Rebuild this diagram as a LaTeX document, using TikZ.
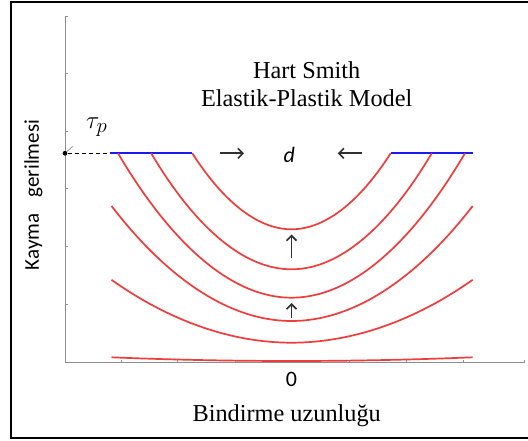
\documentclass[tikz,border=0pt]{standalone}
\usepackage{fontspec}
\setmainfont{Liberation Serif}
\setsansfont{Carlito}
\usetikzlibrary{arrows.meta}
\definecolor{Ink}{HTML}{000000}
\definecolor{AxisGrey}{HTML}{8E8E8E}
\definecolor{CurveRed}{HTML}{F03C3C}
\definecolor{PlateauBlue}{HTML}{1A1AF0}
\definecolor{PushInk}{HTML}{303030}

\begin{document}
\begin{tikzpicture}[x=1pt,y=-1pt,
  curve/.style={CurveRed,line width=1.7pt},
  plateau/.style={PlateauBlue,line width=1.9pt},
  push/.style={PushInk,line width=1.6pt,-{Straight Barb[length=5pt,width=10pt]}},
  serifbig/.style={font=\fontsize{24.3}{27.7}\selectfont,inner sep=0pt,text=Ink},
  sanslbl/.style={font=\sffamily\fontsize{21}{23}\selectfont,inner sep=0pt,text=Ink}]
  \useasboundingbox (0,0) rectangle (528,441);
  \fill[white] (0,0) rectangle (528,441);
  \draw[Ink,line width=2pt] (531,2) -- (11,2) -- (11,438) -- (531,438);

  % axes
  \coordinate (ytop) at (65,16);
  \coordinate (orig) at (65,362.7);
  \coordinate (xend) at (525,362.7);
  \draw[AxisGrey,line width=0.9pt] (ytop) -- (orig) -- (xend);
  \foreach \y in {16,73.3,131,188.7,246.7,304.3}{\draw[AxisGrey,line width=0.8pt] (65,\y) -- ++(3,0);}
  \foreach \x in {121,177.7,235.7,291.5,349,406,463.3,524}{\draw[AxisGrey,line width=0.8pt] (\x,362.7) -- ++(0,-3);}

  % plastic plateau level
  \node[circle,fill=Ink,inner sep=1.7pt] (tpdot) at (65,153.3) {};
  \coordinate (plL1) at (110,153.3);
  \coordinate (plL2) at (192.3,153.3);
  \coordinate (plR1) at (390.7,153.3);
  \coordinate (plR2) at (472.7,153.3);
  \draw[Ink,line width=1pt,dash pattern=on 4pt off 3pt] (tpdot) -- (plL1);
  \draw[AxisGrey,line width=0.7pt] (tpdot.north east) -- ++(6,-5);
  \draw[plateau] (plL1) -- (plL2);
  \draw[plateau] (plR1) -- (plR2);
  \node[inner sep=0pt,font=\fontsize{29}{31}\selectfont] (taup) at (96.7,127.5) {$\tau_{p}$};

  % shear stress curves
  \coordinate (c1l) at (192.3,153.3); \coordinate (c1b) at (291.5,229.3); \coordinate (c1r) at (390.7,153.3);
  \coordinate (c2l) at (151.2,153.3); \coordinate (c2b) at (291.5,269.3); \coordinate (c2r) at (431.8,153.3);
  \coordinate (c3l) at (118.0,153.3); \coordinate (c3b) at (291.5,297.7); \coordinate (c3r) at (465.0,153.3);
  \coordinate (c4l) at (111.5,206.0); \coordinate (c4b) at (291.5,321.0); \coordinate (c4r) at (472.7,206.0);
  \coordinate (c5l) at (111.5,279.8); \coordinate (c5b) at (291.5,342.7); \coordinate (c5r) at (472.7,279.8);
  \coordinate (c6l) at (111.5,357.3); \coordinate (c6b) at (291.5,361.0); \coordinate (c6r) at (472.7,357.3);
  \foreach \c in {c1,c2,c3,c4,c5,c6}{\draw[curve] (\c l) parabola bend (\c b) (\c r);}

  % plastic zone arrows
  \coordinate (arR1) at (220,153.3);   \coordinate (arR2) at (244,153.3);
  \coordinate (arL1) at (361.7,153.3); \coordinate (arL2) at (337.7,153.3);
  \coordinate (up1a) at (291.5,258.3); \coordinate (up1b) at (291.5,234.5);
  \coordinate (up2a) at (291.5,318.3); \coordinate (up2b) at (291.5,303);
  \draw[push] (arR1) -- (arR2);
  \draw[push] (arL1) -- (arL2);
  \draw[push] (up1a) -- (up1b);
  \draw[push] (up2a) -- (up2b);
  \node[sanslbl,font=\sffamily\itshape\fontsize{22}{24}\selectfont] (dlen) at (289.3,154.5) {d};

  % labels
  \node[serifbig,align=center] (title) at (306.7,84.5) {Hart Smith\\Elastik-Plastik Model};
  \node[sanslbl,font=\sffamily\fontsize{22}{24}\selectfont] (zero) at (291.5,379.3) {0};
  \node[serifbig] (xlabel) at (286.7,416) {Bindirme uzunluğu};
  \node[sanslbl,rotate=90] (ylabel) at (33.3,195) {Kayma\hspace{0.55em} gerilmesi};
\end{tikzpicture}
\end{document}
